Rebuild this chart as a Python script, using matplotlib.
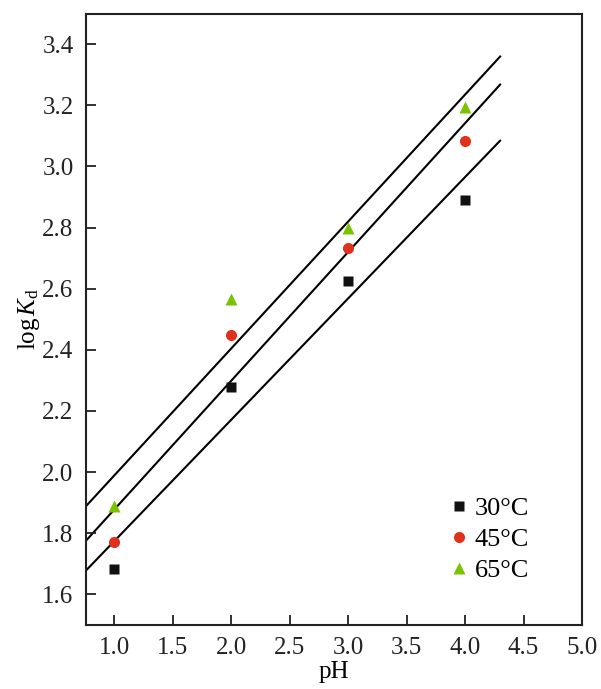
import numpy as np
import matplotlib
matplotlib.use('Agg')
import matplotlib.pyplot as plt

plt.rcParams['font.family'] = ['Liberation Serif', 'DejaVu Serif']
plt.rcParams['mathtext.fontset'] = 'custom'
plt.rcParams['mathtext.rm'] = 'Liberation Serif'
plt.rcParams['mathtext.it'] = 'Liberation Serif:italic'

# data
ph = [1.0, 2.0, 3.0, 4.0]
logkd_30 = [1.683, 2.278, 2.625, 2.891]
logkd_45 = [1.773, 2.448, 2.732, 3.083]
logkd_65 = [1.888, 2.565, 2.798, 3.195]
labels = ['30°C', '45°C', '65°C']
fit_range = [0.76, 4.3]

fig = plt.figure(figsize=(6.01, 6.89), dpi=100)
ax = fig.add_axes([0.1431, 0.0929, 0.8253, 0.8875])

series = [(logkd_30, 's', '#111111', 7.5),
          (logkd_45, 'o', '#e0301e', 8),
          (logkd_65, '^', '#7ac300', 9)]

xfit = np.array(fit_range)
for (y, mk, col, ms), lab in zip(series, labels):
    # least-squares line through each temperature series
    k, b = np.polyfit(ph, y, 1)
    ax.plot(xfit, k*xfit + b, color='black', lw=1.5, zorder=1)
    ax.plot(ph, y, mk, color=col, ms=ms, mec='none', label=lab, zorder=2)

ax.set_xlim(0.76, 5.0)
ax.set_ylim(1.5, 3.5)
ax.set_xticks(np.arange(1.0, 5.01, 0.5))
ax.set_yticks(np.arange(1.6, 3.41, 0.2))
ax.xaxis.set_major_formatter(matplotlib.ticker.FormatStrFormatter('%.1f'))
ax.yaxis.set_major_formatter(matplotlib.ticker.FormatStrFormatter('%.1f'))
ax.tick_params(direction='in', length=7, width=1.3, labelsize=18, colors='#222222')
ax.tick_params(axis='y', pad=9)
ax.tick_params(axis='x', pad=9)
for s in ax.spines.values():
    s.set_linewidth(1.5)
    s.set_color('#222222')

ax.set_xlabel('pH', fontsize=18, labelpad=1)
ax.set_ylabel(r'$\mathrm{log}\,K_\mathrm{d}$', fontsize=18, labelpad=0)

ax.legend(loc='lower right', bbox_to_anchor=(0.92, 0.049), frameon=False, fontsize=19,
          handlelength=0.6, handletextpad=0.3, labelspacing=0.28, borderpad=0)

fig.savefig('out.png', dpi=100)
